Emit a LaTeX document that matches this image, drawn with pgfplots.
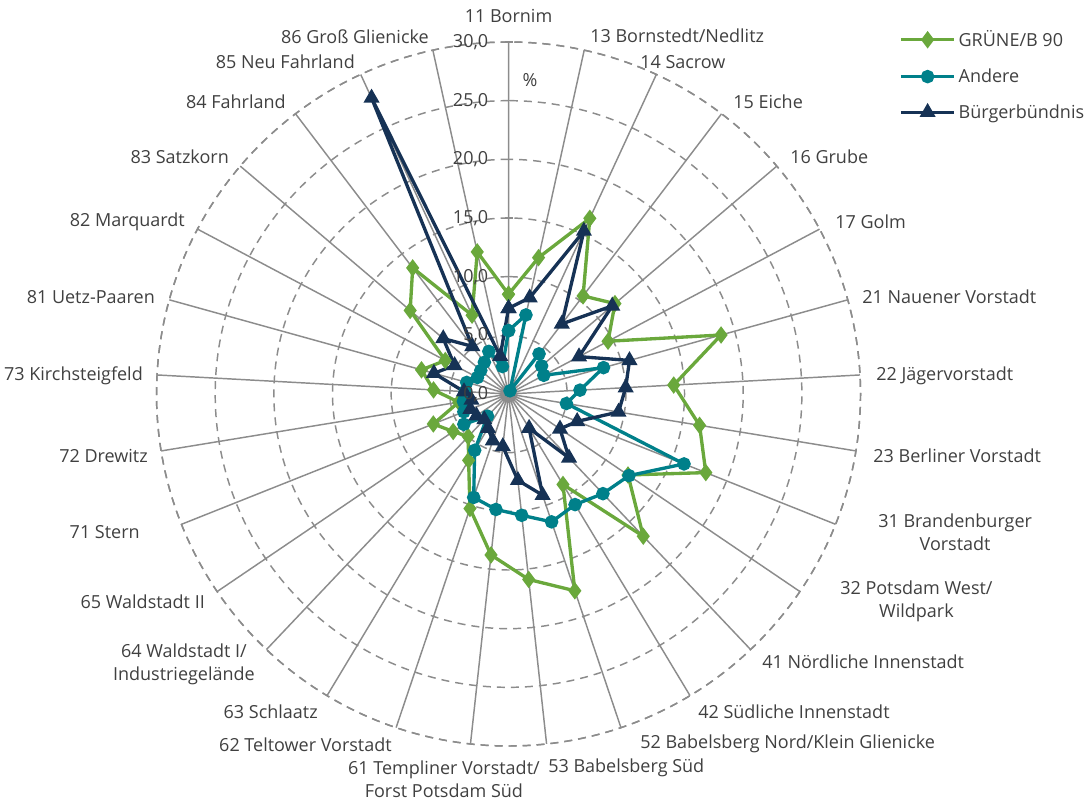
\documentclass[border=0pt]{standalone}
\usepackage{fontspec}
\setmainfont{Open Sans}
\usepackage{pgfplots}
\usepgfplotslibrary{polar}
\pgfplotsset{compat=1.18}
\usepackage{pgfplotstable}

\definecolor{gruen}{RGB}{106,168,60}
\definecolor{tealc}{RGB}{0,128,138}
\definecolor{navy}{RGB}{22,50,85}
\definecolor{gridgray}{RGB}{140,140,140}
\definecolor{txt}{RGB}{64,64,64}

% angle (clockwise from top, degrees) and vote share in %
\pgfplotstableread{
angle   gruene andere buerger
450     8.5    5.4    7.3
437.586 11.9   6.9    8.4
425.172 16.5   0.3    15.3
412.759 10.5   4.3    7.5
400.345 11.9   3.7    11.6
387.931 9.6    3.4    6.8
375.517 18.8   8.4    10.7
363.103 14.1   6.1    10.0
350.690 16.5   5.0    9.5
338.276 18.1   16.1   6.3
325.862 12.3   12.4   5.3
313.448 16.7   11.7   7.5
301.034 9.0    11.0   3.4
288.621 17.7   11.5   9.1
276.207 15.9   10.4   7.4
263.793 13.8   9.9    4.5
251.379 10.3   9.3    4.2
238.966 6.6    5.6    3.4
226.552 5.0    2.6    3.0
214.138 5.7    4.6    3.3
201.724 6.9    4.1    3.5
189.310 4.3    3.9    3.2
176.897 6.4    3.7    3.8
164.483 7.7    3.7    6.6
152.069 6.1    3.0    5.2
139.655 11.0   3.1    7.3
127.241 13.5   3.4    5.1
114.828 7.4    4.0    27.8
102.414 12.4   2.4    3.3
90      8.5    5.4    7.3
}\radar

\tikzset{lab/.style={text=txt, font=\fontsize{13.5}{17}\selectfont,
    align=center, inner sep=0pt}}

\begin{document}
\begin{tikzpicture}
\begin{polaraxis}[
    width=528pt, height=528pt, scale only axis,
    xmin=90, xmax=450, ymin=0, ymax=30,
    xtick={90,102.414,114.828,127.241,139.655,152.069,164.483,176.897,
           189.310,201.724,214.138,226.552,238.966,251.379,263.793,276.207,
           288.621,301.034,313.448,325.862,338.276,350.690,363.103,375.517,
           387.931,400.345,412.759,425.172,437.586},
    xticklabels={},
    ytick={0,5,...,30},
    yticklabels={},
    xmajorgrids, ymajorgrids,
    x grid style={gridgray, line width=1.1pt},
    y grid style={gridgray, line width=1.1pt, dash pattern=on 6pt off 4.5pt},
    axis line style={gridgray, line width=1.1pt, dash pattern=on 6pt off 4.5pt},
    xtick style={draw=none},
    ytick style={gridgray, line width=1.1pt},
    major tick length=6pt,
    ytick align=center,
    legend style={at={(1.049,1.024)}, anchor=north west, draw=none,
        fill=none, text=txt, row sep=11pt,
        font=\fontsize{13.5}{16}\selectfont},
    legend cell align=left,
    legend image code/.code={
        \draw[mark repeat=2, mark phase=2, #1]
            plot coordinates {(0pt,0pt) (20pt,0pt) (40pt,0pt)};},
]
\addplot[gruen, line width=2.5pt, mark=diamond*, mark size=4.5pt,
    mark options={solid}] table[x=angle, y=gruene]{\radar};
\addlegendentry{GRÜNE/B 90}
\addplot[tealc, line width=2.5pt, mark=*, mark size=3.8pt,
    mark options={solid}] table[x=angle, y=andere]{\radar};
\addlegendentry{Andere}
\addplot[navy, line width=2.5pt, mark=triangle*, mark size=4.5pt,
    mark options={solid}] table[x=angle, y=buerger]{\radar};
\addlegendentry{Bürgerbündnis}
\node[lab] at (axis cs:86.1,26.8) {\%};
\coordinate (O) at (axis cs:90,0);
\end{polaraxis}
% radial tick labels along the top spoke
\node[lab, anchor=east] at ([shift={(-15pt,0pt)}]O) {0,0};
\node[lab, anchor=east] at ([shift={(-15pt,44pt)}]O) {5,0};
\node[lab, anchor=east] at ([shift={(-15pt,88pt)}]O) {10,0};
\node[lab, anchor=east] at ([shift={(-15pt,132pt)}]O) {15,0};
\node[lab, anchor=east] at ([shift={(-15pt,176pt)}]O) {20,0};
\node[lab, anchor=east] at ([shift={(-15pt,220pt)}]O) {25,0};
\node[lab, anchor=east] at ([shift={(-15pt,264pt)}]O) {30,0};
% category labels around the circle
\node[lab] at ([shift={(0pt,283.5pt)}]O) {11 Bornim};
\node[lab, anchor=west] at ([shift={(61.1pt,268.5pt)}]O) {13 Bornstedt/Nedlitz};
\node[lab, anchor=west] at ([shift={(98.6pt,249pt)}]O) {14 Sacrow};
\node[lab, anchor=west] at ([shift={(168.4pt,219pt)}]O) {15 Eiche};
\node[lab, anchor=west] at ([shift={(211.1pt,177.75pt)}]O) {16 Grube};
\node[lab, anchor=west] at ([shift={(244.9pt,129pt)}]O) {17 Golm};
\node[lab, anchor=west] at ([shift={(265.1pt,72.75pt)}]O) {21 Nauener Vorstadt};
\node[lab, anchor=west] at ([shift={(275.6pt,13.5pt)}]O) {22 Jägervorstadt};
\node[lab, anchor=west] at ([shift={(273.4pt,-46.5pt)}]O) {23 Berliner Vorstadt};
\node[lab, anchor=west] at ([shift={(277.1pt,-103.5pt)}]O) {31 Brandenburger\\Vorstadt};
\node[lab, anchor=west] at ([shift={(248.6pt,-155.25pt)}]O) {32 Potsdam West/\\Wildpark};
\node[lab, anchor=west] at ([shift={(190.1pt,-201pt)}]O) {41 Nördliche Innenstadt};
\node[lab, anchor=west] at ([shift={(142.1pt,-238.5pt)}]O) {42 Südliche Innenstadt};
\node[lab, anchor=west] at ([shift={(98.6pt,-262.5pt)}]O) {52 Babelsberg Nord/Klein Glienicke};
\node[lab, anchor=west] at ([shift={(29.6pt,-280.5pt)}]O) {53 Babelsberg Süd};
\node[lab, anchor=east] at ([shift={(23.6pt,-288.75pt)}]O) {61 Templiner Vorstadt/\\Forst Potsdam Süd};
\node[lab, anchor=east] at ([shift={(-87.4pt,-263.25pt)}]O) {62 Teltower Vorstadt};
\node[lab, anchor=east] at ([shift={(-142.9pt,-238.5pt)}]O) {63 Schlaatz};
\node[lab, anchor=east] at ([shift={(-190.1pt,-202.5pt)}]O) {64 Waldstadt I/\\Industriegelände};
\node[lab, anchor=east] at ([shift={(-227.6pt,-156pt)}]O) {65 Waldstadt II};
\node[lab, anchor=east] at ([shift={(-276.4pt,-103.5pt)}]O) {71 Stern};
\node[lab, anchor=east] at ([shift={(-270.4pt,-46.5pt)}]O) {72 Drewitz};
\node[lab, anchor=east] at ([shift={(-274.1pt,13.5pt)}]O) {73 Kirchsteigfeld};
\node[lab, anchor=east] at ([shift={(-265.1pt,72.75pt)}]O) {81 Uetz-Paaren};
\node[lab, anchor=east] at ([shift={(-242.6pt,129pt)}]O) {82 Marquardt};
\node[lab, anchor=east] at ([shift={(-209.6pt,177.75pt)}]O) {83 Satzkorn};
\node[lab, anchor=east] at ([shift={(-166.9pt,219pt)}]O) {84 Fahrland};
\node[lab, anchor=east] at ([shift={(-115.1pt,249pt)}]O) {85 Neu Fahrland};
\node[lab, anchor=east] at ([shift={(-59.6pt,267.75pt)}]O) {86 Groß Glienicke};
\pgfresetboundingbox
\path[use as bounding box] (O) ++(-381.4pt,-304.5pt) rectangle ++(817.5pt,600pt);
\end{tikzpicture}
\end{document}
